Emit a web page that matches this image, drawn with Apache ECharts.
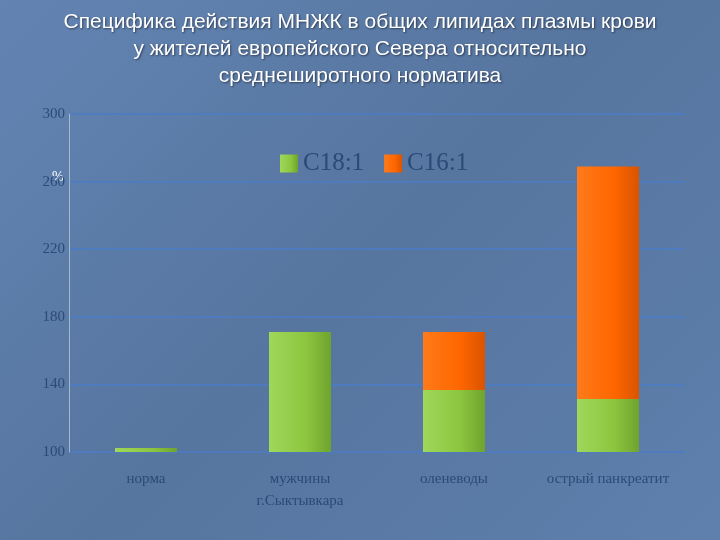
<!DOCTYPE html>
<html><head><meta charset="utf-8">
<script src="https://cdn.jsdelivr.net/npm/echarts@6/dist/echarts.min.js"></script>
<style>html,body{margin:0;padding:0;}#c{width:720px;height:540px;background:linear-gradient(135deg,#6384b3,#56759f 50%,#5f80ad);}</style>
</head><body><div id="c"></div>
<script>
const categories = ['норма', 'мужчины\nг.Сыктывкара', 'оленеводы', 'острый панкреатит'];
const c181 = [102.4, 171, 136.7, 131.4];
const c161 = [0, 0, 34.3, 137.5];
const yTicks = [100, 140, 180, 220, 260, 300];
const chart = echarts.init(document.getElementById('c'));
chart.setOption({
  animation: false,
  title: {
    text: 'Специфика действия МНЖК в общих липидах плазмы крови\nу жителей европейского Севера относительно\nсреднеширотного норматива',
    left: 'center', top: 4,
    textStyle: {color: '#ffffff', fontSize: 21, fontWeight: 'normal', fontFamily: 'Liberation Sans', lineHeight: 27,
      textShadowColor: 'rgba(0,0,0,0.5)', textShadowBlur: 2, textShadowOffsetX: 1, textShadowOffsetY: 1}
  },
  legend: {
    top: 146, left: 275, itemWidth: 18, itemHeight: 18, itemGap: 20,
    textStyle: {color: '#2c4a78', fontSize: 25, fontFamily: 'Liberation Serif'},
    icon: 'rect'
  },
  graphic: [{type: 'text', left: 52, top: 170, style: {text: '%', fill: '#ffffff', fontSize: 14, fontFamily: 'Liberation Serif'}}],
  grid: {left: 69, right: 35, top: 114, bottom: 88},
  xAxis: {
    type: 'category', data: categories,
    axisLine: {show: false}, axisTick: {show: false},
    axisLabel: {interval: 0, color: '#2c4a78', fontSize: 15, fontFamily: 'Liberation Serif', margin: 16, lineHeight: 22}
  },
  yAxis: {
    type: 'value', min: yTicks[0], max: yTicks[yTicks.length-1], interval: 40,
    axisLine: {show: true, lineStyle: {color: '#a8b8cc'}},
    axisTick: {show: false},
    axisLabel: {color: '#2c4a78', fontSize: 15, fontFamily: 'Liberation Serif', margin: 4},
    splitLine: {lineStyle: {color: '#4a7cc6', width: 1.5}}
  },
  series: [
    {name: 'C18:1', type: 'bar', stack: 's', data: c181, barWidth: 62,
      itemStyle: {color: new echarts.graphic.LinearGradient(0,0,1,0,[{offset:0,color:'#9fd85a'},{offset:0.6,color:'#8cc63f'},{offset:1,color:'#6fa32e'}])}},
    {name: 'C16:1', type: 'bar', stack: 's', data: c161, barWidth: 62,
      itemStyle: {color: new echarts.graphic.LinearGradient(0,0,1,0,[{offset:0,color:'#ff7a1a'},{offset:0.6,color:'#ff6600'},{offset:1,color:'#d95400'}])}}
  ]
});
</script></body></html>
